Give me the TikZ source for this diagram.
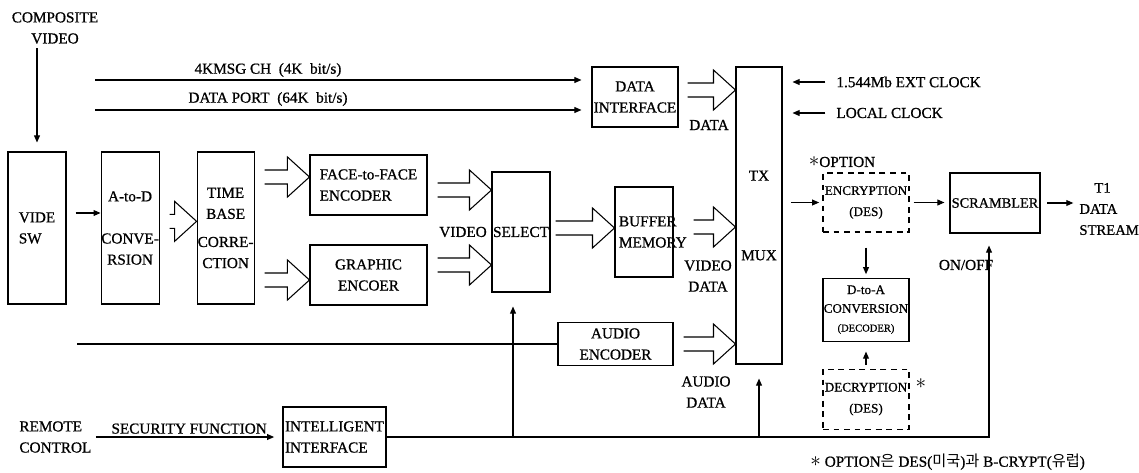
\documentclass[tikz,border=0pt]{standalone}
\usepackage{fontspec}
\setmainfont{Liberation Serif}[UprightFeatures={FakeBold=0.8}]
\newfontfamily\kfont{Noto Sans CJK KR}
\usepackage{tikz}
\usetikzlibrary{arrows.meta,positioning,calc}
\newcommand{\optstar}{\scalebox{1.5}{$\ast$}}

\begin{document}
\begin{tikzpicture}[
    x=0.03cm, y=-0.03cm,
    font=\fontsize{13}{18}\selectfont,
    line width=0.9pt,
    box/.style={draw, rectangle, inner ysep=1pt, inner xsep=0pt, align=center},
    optbox/.style={box, dash pattern=on 5pt off 4pt},
    tip/.style={-{Triangle[length=6pt,width=5pt]}},
    fat/.style={to path={let \p1=(\tikztostart), \p2=(\tikztotarget) in
        (\x1,\y2+0.21cm) -- (\x2-0.66cm,\y2+0.21cm) -- (\x2-0.66cm,\y2+0.6cm)
        -- (\x2,\y2) -- (\x2-0.66cm,\y2-0.6cm) -- (\x2-0.66cm,\y2-0.21cm) -- (\x1,\y2-0.21cm)}},
    node distance=0cm
]
    \useasboundingbox (0,0) rectangle (1139,473);

    % Video chain
    \node[box, minimum width=1.74cm, minimum height=4.56cm, align=left] (vsw) at (37,228) {VIDE\\SW};
    \node[box, minimum width=1.74cm, minimum height=4.56cm, right=1.02cm of vsw] (adc) {A-to-D\\[18pt]CONVE-\\RSION};
    \node[box, minimum width=1.71cm, minimum height=4.56cm, right=1.11cm of adc] (tbc) {TIME\\BASE\\[6pt]CORRE-\\CTION};
    \node[box, minimum width=3.51cm, minimum height=1.8cm, align=left] (f2f) at (368.5,185) {FACE-to-FACE\\ENCODER};
    \node[box, minimum width=3.51cm, minimum height=1.8cm] (gfx) at (368.5,275) {GRAPHIC\\ENCOER};
    \node[box, minimum width=1.74cm, minimum height=3.6cm] (sel) at (521,232) {SELECT};
    \node[box, text width=1.5cm, inner xsep=0.12cm, minimum height=2.7cm, align=left] (buf) at (644,232) {BUFFER\\MEMORY};
    \node[box, minimum width=3.45cm, minimum height=1.3cm] (audio) at (615.5,344) {AUDIO\\ENCODER};
    \node[box, minimum width=2.58cm, minimum height=1.8cm] (dif) at (635,97) {DATA\\INTERFACE};
    \node[box, minimum width=1.38cm, minimum height=8.91cm] (mux) at (759,215.5) {TX\\[50pt]MUX};
    \node[box, minimum width=3.09cm, minimum height=1.8cm, align=left] (iif) at (334.5,437) {INTELLIGENT\\INTERFACE};

    % Output side
    \node[optbox, minimum width=2.58cm, minimum height=1.77cm, font=\fontsize{11.2}{18}\selectfont] (enc) at (866,202.5) {ENCRYPTION\\(DES)};
    \node[box, minimum width=2.58cm, minimum height=1.89cm, below=1.35cm of enc, font=\fontsize{11.2}{16}\selectfont] (dac) {D-to-A\\CONVERSION\\{\fontsize{9}{11}\selectfont (DECODER)}};
    \node[optbox, minimum width=2.58cm, minimum height=1.8cm, below=0.81cm of dac, font=\fontsize{11.2}{18}\selectfont] (dec) {DECRYPTION\\(DES)};
    \node[box, minimum width=2.7cm, minimum height=1.8cm, font=\fontsize{12.2}{18}\selectfont] (scr) at (995,203) {SCRAMBLER};

    % Labels
    \node (cv) at (55,28) [align=center] {COMPOSITE\\VIDEO};
    \node (msglbl) at (268,70) {4KMSG\ CH\ \ (4K\ \ bit/s)};
    \node (portlbl) at (268,99) {DATA\ PORT\ \ (64K\ \ bit/s)};
    \node (datalbl) at (709,125) {DATA};
    \node (videolbl) at (463,232) {VIDEO};
    \node (vdlbl) at (708,276) [align=center] {VIDEO\\DATA};
    \node (adlbl) at (706,392) [align=center] {AUDIO\\DATA};
    \node (extclk) at (832,82) [anchor=west] {1.544Mb\ EXT\ CLOCK};
    \node (lclk) at (832,113) [anchor=west] {LOCAL\ CLOCK};
    \node (optlbl) at (842,162) {\optstar OPTION};
    \node (decstar) at (921,384) {\optstar};
    \node (onoff) at (966,265) {ON/OFF};
    \node (t1) at (1075,209) [anchor=west, align=left, font=\fontsize{12.5}{18}\selectfont] {\hspace*{0.45cm}T1\\DATA\\STREAM};
    \node (rc) at (15,437) [anchor=west, align=left] {REMOTE\\CONTROL};
    \node (note) at (806,462) [anchor=west] {\optstar\ OPTION{\kfont 은} DES({\kfont 미국}){\kfont 과} B-CRYPT({\kfont 유럽})};

    \coordinate (msg) at (95,80);
    \coordinate (port) at (95,110);
    \coordinate (feed) at (77,344);

    % Thin arrows
    \draw[tip, shorten >=0.27cm] (cv.south -| vsw.north) -- (vsw.north);
    \draw[tip] ([shift={(0.27cm,0.45cm)}]vsw.east) -- ([yshift=0.45cm]adc.west);
    \draw[tip, shorten >=0.3cm] (msg) -- (msg -| dif.west);
    \draw[tip, shorten >=0.3cm] (port) -- (port -| dif.west);
    \draw[tip] ([xshift=-0.2cm]extclk.west) -- ([xshift=0.3cm]extclk.west -| mux.east);
    \draw[tip] ([xshift=-0.2cm]lclk.west) -- ([xshift=0.3cm]lclk.west -| mux.east);
    \draw[tip, shorten <=0.25cm, shorten >=0.1cm] (mux.east |- enc.west) -- (enc.west);
    \draw[tip, shorten <=0.12cm, shorten >=0.15cm] (enc.east) -- (scr.west |- enc.east);
    \draw[tip, shorten <=0.2cm, shorten >=0.05cm] (scr.east) -- (scr.east -| t1.west);
    \draw[tip, shorten <=0.45cm, shorten >=0.1cm] (enc.south) -- (dac.north);
    \draw[tip, shorten <=0.12cm, shorten >=0.3cm] (dec.north) -- (dac.south);
    \draw (feed) -- (audio.west);
    \draw[tip, shorten >=0.25cm] (rc.east) -- node[above=-1pt] (secfn) {SECURITY\ FUNCTION} (iif.west);

    % Control bus
    \draw[tip, shorten >=0.36cm] (iif.east) -| ([xshift=-0.18cm]scr.south);
    \draw[tip, shorten >=0.42cm] ([xshift=-0.24cm]sel.south |- iif.east) -- ([xshift=-0.24cm]sel.south);
    \draw[tip, shorten >=0.42cm] (mux.south |- iif.east) -- (mux.south);

    % Wide arrows
    \draw[fat] ([xshift=0.3cm]adc.east) to ([yshift=0.2cm]tbc.west);
    \draw[fat] ([xshift=0.3cm]tbc.east) to ([yshift=0.24cm]f2f.west);
    \draw[fat] ([xshift=0.3cm]tbc.east) to ([yshift=-0.15cm]gfx.west);
    \draw[fat] ([xshift=0.3cm]f2f.east) to ([yshift=-0.15cm]sel.west |- f2f.east);
    \draw[fat] ([xshift=0.3cm]gfx.east) to ([yshift=0.3cm]sel.west |- gfx.east);
    \draw[fat] ([xshift=0.15cm]sel.east) to ([yshift=0.12cm]buf.west);
    \draw[fat] ([xshift=0.6cm]buf.east) to ([yshift=0.15cm]mux.west |- buf.east);
    \draw[fat] ([xshift=0.27cm]dif.east) to ([yshift=0.21cm]mux.west |- dif.east);
    \draw[fat] ([xshift=0.3cm]audio.east) to (mux.west |- audio.east);
\end{tikzpicture}
\end{document}
